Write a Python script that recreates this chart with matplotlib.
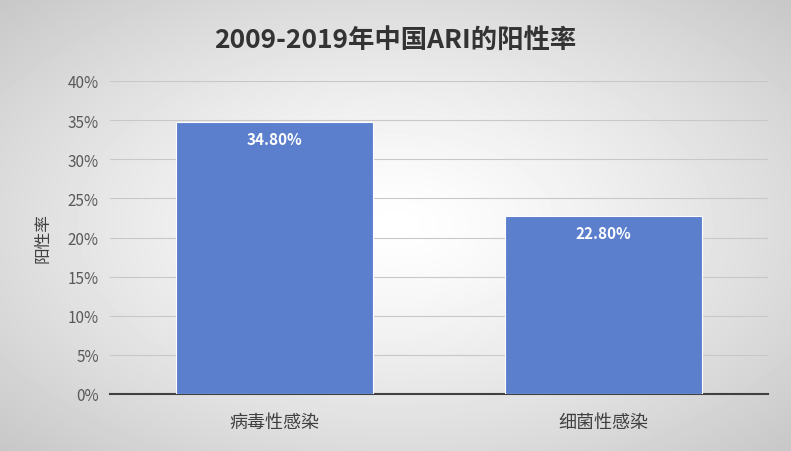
import matplotlib
matplotlib.use("Agg")
import matplotlib.pyplot as plt
import numpy as np

plt.rcParams['font.family'] = ['Noto Sans CJK SC', 'DejaVu Sans']

categories = ["病毒性感染", "细菌性感染"]
values = [34.8, 22.8]
ytick_vals = [0, 5, 10, 15, 20, 25, 30, 35, 40]
ytick_labels = ["0%", "5%", "10%", "15%", "20%", "25%", "30%", "35%", "40%"]

fig = plt.figure(figsize=(7.91, 4.52), dpi=100)
bg = fig.add_axes([0, 0, 1, 1], zorder=-10)
yy, xx = np.mgrid[-1:1:452j, -1:1:791j]
r = np.sqrt(xx**2 + yy**2) / np.sqrt(2)
bg.imshow(1 - 0.22 * r**1.3, cmap='gray', vmin=0, vmax=1, aspect='auto', extent=[0, 1, 0, 1])
bg.axis('off')

W, H = 791, 452
ax = fig.add_axes([110 / W, (H - 395) / H, 658 / W, (395 - 82) / H])
ax.patch.set_alpha(0)
x = np.arange(len(categories))
bars = ax.bar(x, values, width=0.6, color='#5b7fcc', edgecolor='white', linewidth=0.8, zorder=3)
for b, v in zip(bars, values):
    ax.text(b.get_x() + b.get_width() / 2, v - 2.2, f"{v:.2f}%", ha='center', va='center',
            color='white', fontsize=11, fontweight='bold', zorder=4)
ax.set_xlim(-0.5, 1.5)
ax.set_ylim(0, 40)
ax.set_yticks(ytick_vals)
ax.set_yticklabels(ytick_labels, color='#595959', fontsize=11)
ax.set_xticks(x)
ax.set_xticklabels(categories, fontsize=13, color='#404040')
ax.grid(axis='y', color='#c8c8c8', linewidth=0.8, zorder=0)
for s in ['top', 'right', 'left']:
    ax.spines[s].set_visible(False)
ax.spines['bottom'].set_color('#404040')
ax.spines['bottom'].set_linewidth(1.5)
ax.tick_params(axis='y', length=0, pad=8)
ax.tick_params(axis='x', length=0, pad=14)
ax.set_ylabel("阳性率", fontsize=12, color='#404040', labelpad=12)
fig.text(0.5, (H - 40) / H, "2009-2019年中国ARI的阳性率", ha='center', va='center',
         fontsize=19, fontweight='bold', color='#333333')
fig.savefig("out.png", dpi=100)
